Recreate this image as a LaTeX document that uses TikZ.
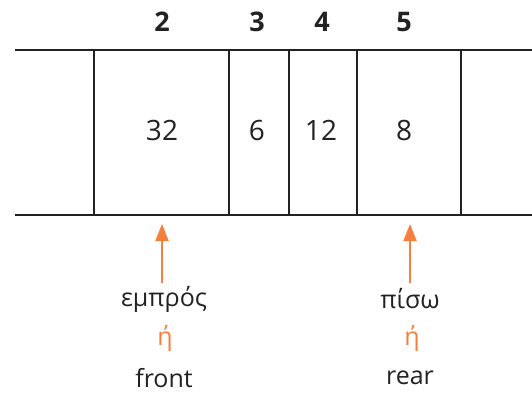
\documentclass[tikz,border=0pt]{standalone}
\usepackage{fontspec}
\setmainfont{Open Sans}
\usetikzlibrary{arrows.meta}
\definecolor{ptrorange}{HTML}{F5803E}
\definecolor{inkgray}{HTML}{222222}
\begin{document}
\begin{tikzpicture}[x=1pt,y=-1pt,
  rail/.style={line width=2.6pt,inkgray},
  wall/.style={line width=2pt,inkgray},
  thinwall/.style={line width=1.2pt,inkgray},
  idx/.style={font=\fontsize{27}{30}\selectfont\bfseries,text=inkgray,inner sep=0pt},
  val/.style={font=\fontsize{28}{32}\selectfont,text=inkgray,inner sep=0pt},
  word/.style={font=\fontsize{25}{29}\selectfont,text=inkgray,inner sep=0pt},
  orword/.style={font=\fontsize{25}{29}\selectfont,text=ptrorange,inner sep=0pt},
  ptr/.style={line width=2pt,ptrorange,-{Triangle[length=17pt,width=13pt]}}]
\useasboundingbox (0,0) rectangle (532,394);
% queue rails
\draw[rail] (15,50) -- (532,50);
\draw[rail] (15,215) -- (532,215);
% cell walls
\draw[wall] (94,50) -- (94,215);
\draw[thinwall] (229,50) -- (229,215);
\draw[wall] (289,50) -- (289,215);
\draw[wall] (357,50) -- (357,215);
\draw[wall] (461,50) -- (461,215);
% indices
\node[idx] (i2) at (162,22) {2};
\node[idx] (i3) at (257,22) {3};
\node[idx] (i4) at (322,22) {4};
\node[idx] (i5) at (404,22) {5};
% stored values
\node[val] (v32) at (162,130) {32};
\node[val] (v6) at (257,130) {6};
\node[val] (v12) at (321,130) {12};
\node[val] (v8) at (404,130) {8};
% front pointer
\node[word] (emp) at (164,299) {εμπρός};
\node[orword] (or1) at (165,338) {ή};
\node[word] (front) at (164,378) {front};
\coordinate (ftip) at (162,224);
\draw[ptr] (162,283) -- (ftip);
% rear pointer
\node[word] (pis) at (410,299) {πίσω};
\node[orword] (or2) at (412,338) {ή};
\node[word] (rear) at (410,378) {rear};
\coordinate (rtip) at (410,224);
\draw[ptr] (410,283) -- (rtip);
\end{tikzpicture}
\end{document}
